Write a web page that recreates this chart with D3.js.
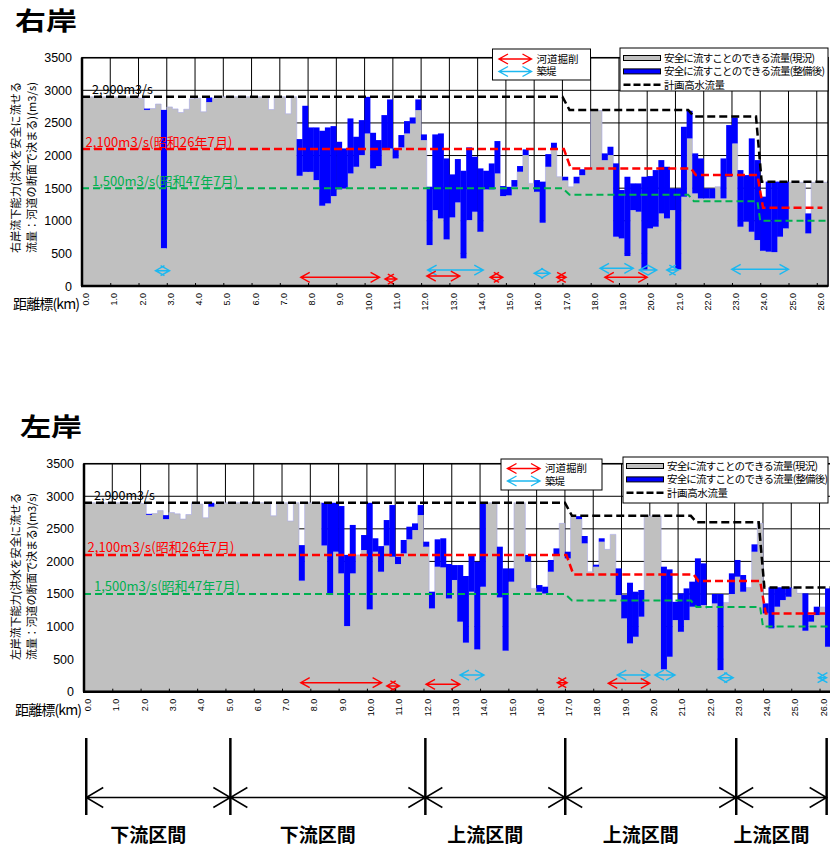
<!DOCTYPE html>
<html>
<head>
<meta charset="utf-8">
<script src="https://cdnjs.cloudflare.com/ajax/libs/d3/7.8.5/d3.min.js"></script>
<style>
body { margin: 0; background: #fff; }
text { font-family: "Noto Sans CJK JP", "Noto Sans", sans-serif; }
.num text, text.num { font-family: "Liberation Sans", Arial, sans-serif; }
</style>
</head>
<body>
<svg id="chart" width="830" height="846"></svg>
<script>
// one bar per 0.2 km, 0.0 - 26.4 km
var segKm = 0.2;
var xTicks = [0,1,2,3,4,5,6,7,8,9,10,11,12,13,14,15,16,17,18,19,20,21,22,23,24,25,26];
var yTicks = [0,500,1000,1500,2000,2500,3000,3500];

// 右岸 現況 / 整備後
var rightNow = [
  2900,2900,2900,2900,2900,2900,2900,2900,2900,2900,
  2880,2700,2720,2790,580,2745,2715,2660,2710,2870,
  2880,2670,2820,2880,2900,2900,2900,2900,2900,2900,
  2900,2900,2900,2705,2900,2900,2640,2900,1690,1750,
  1750,1624,1231,1267,1379,1481,1496,1726,1828,2007,
  2339,1803,1839,2109,2109,1956,2125,2339,2492,2697,
  2237,628,1164,1037,715,1052,1282,424,1011,1139,
  832,1481,1481,1726,1379,1390,1522,1752,2007,1573,
  1445,970,1828,2109,1675,1620,1520,1573,1700,1800,
  2690,2690,1930,2007,756,730,460,1164,1139,245,
  884,909,1113,1037,1164,255,1369,2263,1420,1343,
  1343,1343,1522,1343,1675,2186,909,986,832,705,
  540,526,520,756,884,1590,1590,1590,807,1590,
  1590,1590
];
var rightAfter = [
  2900,2900,2900,2900,2900,2900,2900,2900,2900,2900,
  2880,2720,2720,2790,2700,2745,2715,2660,2710,2870,
  2880,2670,2890,2880,2900,2900,2900,2900,2900,2900,
  2900,2900,2900,2705,2900,2900,2640,2900,2252,2763,
  2431,2431,2380,2431,2451,2211,2109,2569,2288,2543,
  2900,2349,2237,2620,2860,2109,2314,2528,2584,2860,
  2324,1522,2324,2339,1956,1711,1946,1767,2125,1982,
  1803,1767,1879,2222,1532,1520,1624,1839,2094,1573,
  1624,1600,2022,2196,1675,1675,1520,1675,1790,1800,
  2690,2690,2033,2135,1880,1471,1675,1573,1573,1675,
  1685,1777,1930,1828,1496,1496,2441,2686,2033,1956,
  1496,1496,1522,1956,2467,2584,1777,1700,2263,1930,
  1370,1600,1600,1600,1600,1590,1590,1590,1113,1590,
  1590,1590
];

// 左岸 現況 / 整備後
var leftNow = [
  2900,2900,2900,2900,2900,2900,2900,2900,2900,2900,
  2890,2715,2735,2780,2650,2750,2730,2650,2720,2900,
  2880,2670,2840,2880,2900,2900,2900,2900,2900,2900,
  2900,2900,2900,2700,2900,2900,2620,2900,1705,2900,
  2900,2900,2245,1485,2150,1817,1008,1817,2100,2175,
  1264,2150,1842,2245,2073,1960,2124,2340,2482,2712,
  2226,1279,1919,1909,1432,1715,1075,753,1535,650,
  1612,2900,2900,1448,630,1689,2900,2900,1996,1586,
  1535,1509,1842,2098,2584,2047,2690,2650,2278,1840,
  1919,2303,2185,2415,1484,1126,742,844,1152,2697,
  2697,2697,343,537,1100,920,1100,1305,1305,1330,
  1279,1356,332,1370,1500,1766,1535,1600,2149,2584,
  1203,972,1305,1407,1458,1586,1510,936,1075,1177,
  1300,690
];
var leftAfter = [
  2900,2900,2900,2900,2900,2900,2900,2900,2900,2900,
  2890,2730,2735,2780,2710,2750,2730,2650,2720,2900,
  2880,2670,2900,2880,2900,2900,2900,2900,2900,2900,
  2900,2900,2900,2700,2900,2900,2620,2900,2250,2900,
  2900,2900,2900,2900,2900,2850,2100,2560,2100,2405,
  2900,2355,2235,2635,2865,2073,2329,2533,2584,2865,
  2303,1535,2339,2355,1960,1944,1944,1776,2114,1995,
  2900,2900,2900,2226,1893,1893,2900,2900,2098,1586,
  1637,1612,2022,2200,2584,2149,2690,2695,2390,1840,
  1950,2355,2185,2415,1893,1484,1673,1535,1561,2697,
  2697,2697,1919,1878,1380,1510,1586,1689,2047,1970,
  1279,1500,1500,1370,1817,2022,1791,1600,2262,2584,
  1356,1602,1602,1602,1602,1586,1510,1510,1177,1305,
  1300,1586
];

// [km, m3/s]
var planFlow = [[0,2900],[17.0,2900],[17.25,2700],[21.45,2700],[21.65,2600],[23.85,2600],[24.05,1600],[26.4,1600]];
var flowS26  = [[0,2100],[17.05,2100],[17.3,1800],[21.55,1800],[21.72,1700],[23.9,1700],[24.1,1200],[26.2,1200]];
var flowS47  = [[0,1500],[17.0,1500],[17.25,1400],[21.45,1400],[21.65,1300],[23.9,1300],[24.0,1000],[26.4,1000]];

// [from km, to km, height m3/s]
var rightDig   = [[7.74,10.53,133],[10.72,11.14,107],[12.2,13.37,153],[14.44,14.89,133],[16.8,17.13,133],[18.5,20.0,133]];
var rightLevee = [[2.6,3.1,234],[12.23,14.2,245],[16.0,16.56,195],[18.33,19.51,271],[19.72,20.34,245],[20.69,21.1,245],[22.99,25.0,256]];
var leftDig    = [[7.66,10.52,138],[10.7,11.15,88],[12.09,13.29,114],[16.73,17.08,138],[18.53,20.0,129]];
var leftLevee  = [[13.29,14.14,256],[18.85,20.0,256],[20.18,20.89,256],[22.42,22.95,215],[25.96,26.25,215]];

var sectionKm = [0.15,5.25,12.15,17.1,23.15,26.35];
var sectionNames = ["下流区間","下流区間","上流区間","上流区間","上流区間"];

var legendArrows = ["河道掘削","築堤"];
var legendSeries = ["安全に流すことのできる流量(現況)","安全に流すことのできる流量(整備後)","計画高水流量"];

var GRAY = "#c0c0c0", BLUE = "#0000ff", RED = "#ff0000", CYAN = "#1cb8f0", GREEN = "#00b050";

var svg = d3.select("#chart");

function arrowPath(xa, xb, yy, head, half) {
  var p = d3.path();
  p.moveTo(xa, yy); p.lineTo(xb, yy);
  p.moveTo(xa + head, yy - half); p.lineTo(xa, yy); p.lineTo(xa + head, yy + half);
  p.moveTo(xb - head, yy - half); p.lineTo(xb, yy); p.lineTo(xb - head, yy + half);
  return p.toString();
}

function drawPanel(p) {
  var x = d3.scaleLinear().domain([0, 26.4]).range([p.left, p.left + 26.4 * p.kmPx]);
  var y = d3.scaleLinear().domain([0, 3500]).range([p.bottom, p.top]);
  var g = svg.append("g");

  // title
  g.append("text").attr("x", p.titleX).attr("y", p.titleY)
    .attr("font-size", 25).attr("font-weight", "bold")
    .attr("textLength", 62).attr("lengthAdjust", "spacingAndGlyphs")
    .text(p.title);

  // grid
  g.append("g").selectAll("line").data(xTicks).join("line")
    .attr("x1", d => x(d)).attr("x2", d => x(d))
    .attr("y1", y(3500)).attr("y2", y(0))
    .attr("stroke", "#000").attr("stroke-width", 1);
  g.append("g").selectAll("line").data(yTicks).join("line")
    .attr("x1", x(0)).attr("x2", x(26.4))
    .attr("y1", d => y(d)).attr("y2", d => y(d))
    .attr("stroke", "#000").attr("stroke-width", 1);

  // current capacity as one stepped area, improvement as blue on top of it
  var segs = p.now.map(function(v, i) { return { k: i, now: v, after: p.after[i] }; });
  var steps = segs.concat([{ k: segs.length, now: segs[segs.length - 1].now }]);
  var area = d3.area().curve(d3.curveStepAfter)
    .x(d => x(d.k * segKm)).y0(y(0)).y1(d => y(d.now));
  g.append("path").datum(steps).attr("d", area).attr("fill", GRAY)
    .attr("stroke", "#a8a8e8").attr("stroke-width", 0.6);
  var bw = x(segKm) - x(0);
  g.append("g").selectAll("rect").data(segs.filter(d => d.after > d.now)).join("rect")
    .attr("x", d => x(d.k * segKm) - 0.15).attr("width", bw + 0.3)
    .attr("y", d => y(d.after)).attr("height", d => y(d.now) - y(d.after))
    .attr("fill", BLUE);

  // reference flows
  var line = d3.line().x(d => x(d[0])).y(d => y(d[1]));
  g.append("path").datum(flowS47).attr("d", line).attr("fill", "none")
    .attr("stroke", GREEN).attr("stroke-width", 2).attr("stroke-dasharray", "7,4");
  g.append("path").datum(flowS26).attr("d", line).attr("fill", "none")
    .attr("stroke", RED).attr("stroke-width", 2.5).attr("stroke-dasharray", "8,4");
  g.append("path").datum(planFlow).attr("d", line).attr("fill", "none")
    .attr("stroke", "#000").attr("stroke-width", 2.5).attr("stroke-dasharray", "8,4");

  g.append("text").attr("x", x(0.35)).attr("y", y(2900) - 3)
    .attr("font-size", 12.5).attr("textLength", 61).text("2,900m3/s");
  g.append("text").attr("x", x(0.12)).attr("y", y(2100) - 2.5)
    .attr("font-size", 13).attr("fill", RED).attr("textLength", 147).text("2,100m3/s(昭和26年7月)");
  g.append("text").attr("x", x(0.35)).attr("y", y(1500) - 2.5)
    .attr("font-size", 13).attr("fill", GREEN).attr("textLength", 146).text("1,500m3/s(昭和47年7月)");

  // works
  g.append("g").selectAll("path").data(p.levee).join("path")
    .attr("d", d => arrowPath(x(d[0]), x(d[1]), y(d[2]), 9, 5))
    .attr("fill", "none").attr("stroke", CYAN).attr("stroke-width", 1.4);
  g.append("g").selectAll("path").data(p.dig).join("path")
    .attr("d", d => arrowPath(x(d[0]), x(d[1]), y(d[2]), 9, 5))
    .attr("fill", "none").attr("stroke", RED).attr("stroke-width", 1.4);

  // frame
  g.append("rect").attr("x", x(0)).attr("y", y(3500))
    .attr("width", x(26.4) - x(0)).attr("height", y(0) - y(3500))
    .attr("fill", "none").attr("stroke", "#000").attr("stroke-width", 1.5);
  g.append("line").attr("x1", x(0)).attr("x2", x(0)).attr("y1", y(3500)).attr("y2", y(0))
    .attr("stroke", "#000").attr("stroke-width", 2.5);
  g.append("line").attr("x1", x(0) - 1).attr("x2", x(26.4)).attr("y1", y(0)).attr("y2", y(0))
    .attr("stroke", "#000").attr("stroke-width", 2.5);

  // axes
  var yAxis = g.append("g").attr("class", "num").attr("transform", "translate(" + x(0) + ",0)")
    .call(d3.axisLeft(y).tickValues(yTicks).tickFormat(d3.format("d")).tickSize(0).tickPadding(10));
  yAxis.select(".domain").remove();
  yAxis.selectAll("text").attr("font-size", 12.5).attr("fill", "#000");

  var xAxis = g.append("g").attr("class", "num").attr("transform", "translate(0," + y(0) + ")")
    .call(d3.axisBottom(x).tickValues(xTicks).tickFormat(d3.format(".1f")).tickSizeInner(-3).tickSizeOuter(0));
  xAxis.select(".domain").remove();
  xAxis.selectAll("line").attr("stroke", "#000");
  xAxis.selectAll("text").attr("font-size", 9).attr("fill", "#000")
    .attr("transform", "rotate(-90)").attr("x", -7).attr("y", 3.5).attr("dy", "0.35em")
    .style("text-anchor", "end");

  g.append("text").attr("x", p.left - 69).attr("y", y(0) + 23)
    .attr("font-size", 14).attr("textLength", 67).text("距離標(km)");

  // y title
  var yt = g.append("g").attr("transform", "translate(" + p.ytX + "," + p.ytY + ") rotate(-90)");
  yt.append("text").attr("x", 0).attr("y", 0).attr("font-size", 11)
    .attr("textLength", p.ytLen).text(p.title + "流下能力(洪水を安全に流せる");
  yt.append("text").attr("x", 0).attr("y", 16).attr("font-size", 11)
    .attr("textLength", p.ytLen).text("流量：河道の断面で決まる)(m3/s)");

  // legend: works
  var l1 = g.append("g").attr("transform", "translate(" + p.leg1[0] + "," + p.leg1[1] + ")");
  l1.append("rect").attr("width", p.leg1[2]).attr("height", p.leg1[3])
    .attr("fill", "#fff").attr("stroke", "#000").attr("stroke-width", 1);
  l1.selectAll("path").data(legendArrows).join("path")
    .attr("d", (d, i) => arrowPath(6.5, 39, p.leg1[4] + i * 12.5, 9, 5))
    .attr("fill", "none").attr("stroke", (d, i) => i === 0 ? RED : CYAN).attr("stroke-width", 1.4);
  l1.selectAll("text").data(legendArrows).join("text")
    .attr("x", 44).attr("y", (d, i) => p.leg1[4] + i * 12.5).attr("dy", "0.36em")
    .attr("font-size", 10.5).attr("textLength", (d, i) => i === 0 ? 42 : 20).text(d => d);

  // legend: series
  var l2 = g.append("g").attr("transform", "translate(" + p.leg2[0] + "," + p.leg2[1] + ")");
  l2.append("rect").attr("width", p.leg2[2]).attr("height", p.leg2[3])
    .attr("fill", "#fff").attr("stroke", "#000").attr("stroke-width", 1);
  var rowY = function(i) { return p.leg2[4] + i * 13.4; };
  l2.append("rect").attr("x", 3.5).attr("y", rowY(0) - 2.5).attr("width", 37).attr("height", 5)
    .attr("fill", GRAY).attr("stroke", "#000").attr("stroke-width", 1);
  l2.append("rect").attr("x", 3.5).attr("y", rowY(1) - 2.5).attr("width", 37).attr("height", 5)
    .attr("fill", BLUE).attr("stroke", "#000").attr("stroke-width", 1);
  l2.append("line").attr("x1", 3.5).attr("x2", 40.5).attr("y1", rowY(2)).attr("y2", rowY(2))
    .attr("stroke", "#000").attr("stroke-width", 2.5).attr("stroke-dasharray", "7,3");
  l2.selectAll("text").data(legendSeries).join("text")
    .attr("x", 44).attr("y", (d, i) => rowY(i)).attr("dy", "0.36em")
    .attr("font-size", 10.5)
    .attr("textLength", (d, i) => i === 2 ? 61 : (i === 0 ? 151 : 161))
    .text(d => d);
}

drawPanel({
  title: "右岸", titleX: 15, titleY: 30,
  left: 82, kmPx: 28.26, top: 57.7, bottom: 286,
  now: rightNow, after: rightAfter, dig: rightDig, levee: rightLevee,
  ytX: 20, ytY: 253, ytLen: 171,
  leg1: [492.5, 49, 98, 31, 10], leg2: [620, 48, 208, 43, 10]
});

drawPanel({
  title: "左岸", titleX: 20, titleY: 436,
  left: 84, kmPx: 28.29, top: 463.7, bottom: 691.7,
  now: leftNow, after: leftAfter, dig: leftDig, levee: leftLevee,
  ytX: 20, ytY: 660, ytLen: 167,
  leg1: [501, 459, 101, 31, 9.5], leg2: [623, 457, 205, 46, 9]
});

// sections below the charts
var sx = d3.scaleLinear().domain([0, 26.4]).range([82, 82 + 26.4 * 28.26]);
var sec = svg.append("g");
sec.selectAll("line").data(sectionKm).join("line")
  .attr("x1", d => sx(d)).attr("x2", d => sx(d)).attr("y1", 738).attr("y2", 815)
  .attr("stroke", "#000").attr("stroke-width", 2.5);
var spans = d3.pairs(sectionKm);
sec.selectAll("path").data(spans).join("path")
  .attr("d", d => arrowPath(sx(d[0]), sx(d[1]), 797.5, 17, 10))
  .attr("fill", "none").attr("stroke", "#000").attr("stroke-width", 1.5);
sec.selectAll("text").data(spans).join("text")
  .attr("x", d => (sx(d[0]) + sx(d[1])) / 2 - 10).attr("y", 842)
  .attr("text-anchor", "middle").attr("font-size", 19).attr("font-weight", "bold")
  .text((d, i) => sectionNames[i]);
</script>
</body>
</html>
